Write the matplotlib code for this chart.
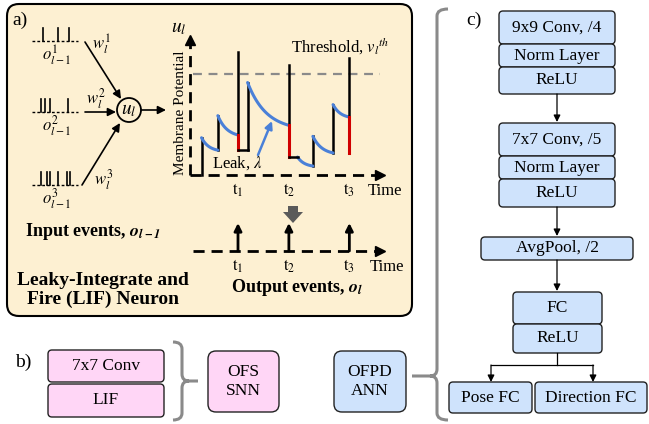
import numpy as np
import matplotlib.pyplot as plt
from matplotlib.patches import FancyBboxPatch, Circle, Polygon, PathPatch
from matplotlib.path import Path

plt.rcParams['font.family'] = 'Liberation Serif'
plt.rcParams['mathtext.fontset'] = 'stix'

# input spike trains (x positions of spikes) and their baselines
train_spikes = [[43, 58, 69], [41, 45, 50, 68], [41, 47, 50, 58, 67, 70]]
train_base = [41, 112, 185]

# membrane potential trace, in (time, potential) units
rise_times = [0.6, 1.45, 3.0, 6.4, 7.45]
rise_from = [0.0, 0.18, 0.18, 0.065, 0.16]
rise_to = [0.27, 0.43, 0.67, 0.28, 0.51]
leak_start = [(0.6, 0.27), (1.45, 0.43), (3.0, 0.67), (5.6, 0.13), (6.4, 0.28), (7.45, 0.51)]
leak_end = [(1.45, 0.18), (2.5, 0.29), (5.15, 0.36), (6.4, 0.065), (7.45, 0.16), (8.3, 0.42)]
fire_times = [2.5, 5.15, 8.3]
fire_from = [0.29, 0.36, 0.42]
fire_peak = [0.89, 0.80, 0.85]
reset_to = [0.18, 0.13, 0.16]
rest_end = [3.0, 5.6, None]
threshold = 0.73

# network layers
snn_layers = ['7x7 Conv', 'LIF']
ann_block1 = ['9x9 Conv, /4', 'Norm Layer', 'ReLU']
ann_block2 = ['7x7 Conv, /5', 'Norm Layer', 'ReLU']
ann_pool = 'AvgPool, /2'
ann_fc = ['FC', 'ReLU']
ann_heads = ['Pose FC', 'Direction FC']

beige = '#fdf0d2'
pink = '#ffd6f6'
blue = '#cfe3fc'
trace_blue = '#4a80d8'

fig = plt.figure(figsize=(6.49, 4.24), dpi=100)
ax = fig.add_axes([0, 0, 1, 1])
ax.set_xlim(0, 649)
ax.set_ylim(424, 0)
ax.axis('off')


def px(t):
    return 190 + t * 19.2


def py(v):
    return 175 - v * 138


def arrow(x0, y0, x1, y1, color='k', lw=1.2, ms=12):
    ax.annotate('', xy=(x1, y1), xytext=(x0, y0),
                arrowprops=dict(arrowstyle='-|>', color=color, lw=lw,
                                mutation_scale=ms, shrinkA=0, shrinkB=0))


def box(x, y, w, h, fc, text='', r=4, fs=12.5):
    ax.add_patch(FancyBboxPatch((x, y), w, h, boxstyle=f'round,pad=0,rounding_size={r}',
                                fc=fc, ec='#222222', lw=1.0))
    if text:
        ax.text(x + w / 2, y + h / 2, text, ha='center', va='center', fontsize=fs,
                linespacing=1.25)


def brace(x, y0, y1, ym, tip, curl, r=7):
    s = np.sign(curl)
    verts = [(x + curl, y0), (x, y0), (x, y0 + r), (x, ym - r), (x, ym), (x - s * r, ym), (tip, ym),
             (x - s * r, ym), (x, ym), (x, ym + r), (x, y1 - r), (x, y1), (x + curl, y1)]
    codes = [Path.MOVETO, Path.CURVE3, Path.CURVE3, Path.LINETO, Path.CURVE3, Path.CURVE3, Path.LINETO,
             Path.MOVETO, Path.CURVE3, Path.CURVE3, Path.LINETO, Path.CURVE3, Path.CURVE3]
    ax.add_patch(PathPatch(Path(verts, codes), fc='none', ec='#8a8a8a', lw=2.2))


# ---------------- panel a ----------------
ax.add_patch(FancyBboxPatch((7, 4), 405, 312, boxstyle='round,pad=0,rounding_size=12',
                            fc=beige, ec='black', lw=1.5))
ax.text(12, 20, 'a)', fontsize=14, va='center')

for k, (sp, base) in enumerate(zip(train_spikes, train_base)):
    ax.plot([32, 78], [base, base], color='k', lw=1.0, ls=(0, (2, 1.5)))
    for s in sp:
        ax.plot([s, s], [base, base - 13], color='k', lw=1.2)
    ax.text(57, base + 14, r'$o_{l-1}^{%d}$' % (k + 1), fontsize=12, ha='center', va='center')

arrow(85, 42, 121, 99)
arrow(85, 112, 116, 112)
arrow(82, 185, 120, 123)
arrow(141, 110, 166, 110)
ax.text(101, 44, r'$w_l^1$', fontsize=12, ha='center', va='center')
ax.text(96, 99, r'$w_l^2$', fontsize=12, ha='center', va='center')
ax.text(104, 180, r'$w_l^3$', fontsize=12, ha='center', va='center')
ax.add_patch(Circle((129, 110), 12, fc='none', ec='k', lw=1.3))
ax.text(129, 110, r'$u_l$', fontsize=14, ha='center', va='center')

ax.text(93, 232, r'Input events, $\mathbfit{o}_{\mathbfit{l-1}}$', fontsize=13, fontweight='bold',
        ha='center', va='center')
ax.text(103, 290, 'Leaky-Integrate and\nFire (LIF) Neuron', fontsize=14, fontweight='bold',
        ha='center', va='center', linespacing=1.1)

# membrane potential axes
dash = (0, (4, 2.5))
ax.plot([190, 190], [175, 42], color='k', lw=2, ls=dash)
ax.plot([190], [40], marker='^', color='k', ms=7)
ax.plot([190, 377], [175, 175], color='k', lw=2, ls=dash)
ax.plot([380], [175], marker='>', color='k', ms=7)
ax.text(179, 28, r'$u_l$', fontsize=14, ha='center', va='center')
ax.text(180, 113, 'Membrane Potential', rotation=90, fontsize=11, ha='center', va='center')
ax.plot([193, 380], [py(threshold), py(threshold)], color='#8a8a8a', lw=1.6, ls=(0, (4, 3)))
ax.text(340, 46, r'Threshold, $v_l{}^{th}$', fontsize=12, ha='center', va='center')
ax.text(368, 191, 'Time', fontsize=12, va='center')

for t, v0, v1 in zip(rise_times, rise_from, rise_to):
    ax.plot([px(t), px(t)], [py(v0), py(v1)], color='k', lw=1.8)
for (t0, v0), (t1, v1) in zip(leak_start, leak_end):
    tt = np.linspace(0, 1, 40)
    e = (np.exp(-2.2 * tt) - np.exp(-2.2)) / (1 - np.exp(-2.2))
    ax.plot(px(t0 + (t1 - t0) * tt), py(v1 + (v0 - v1) * e), color=trace_blue, lw=2.2,
            solid_capstyle='round')
for i, (t, v0, vp, vr, te) in enumerate(zip(fire_times, fire_from, fire_peak, reset_to, rest_end)):
    ax.plot([px(t), px(t)], [py(v0), py(vp)], color='k', lw=1.8)
    ax.plot([px(t), px(t)], [py(v0), py(vr)], color='#d00000', lw=2.2)
    if te is not None:
        ax.plot([px(t), px(te)], [py(vr), py(vr)], color='k', lw=1.8)
    ax.text(px(t), 190, r'$\mathrm{t}_%d$' % (i + 1), fontsize=12, ha='center', va='center')

ax.text(237, 163, r'Leak, $\lambda$', fontsize=12, ha='center', va='center')
arrow(258, 155, 272, 121, color=trace_blue, lw=1.8, ms=11)

# big gray down arrow
ax.add_patch(Polygon([(288, 206), (298, 206), (298, 212), (303, 212), (293, 223), (283, 212),
                      (288, 212)], closed=True, fc='#5a5a5a', ec='none'))

# output events
ax.plot([193, 377], [251, 251], color='k', lw=2, ls=dash)
ax.plot([380], [251], marker='>', color='k', ms=7)
for i, t in enumerate(fire_times):
    arrow(px(t), 251, px(t), 223, lw=2, ms=11)
    ax.text(px(t), 266, r'$\mathrm{t}_%d$' % (i + 1), fontsize=12, ha='center', va='center')
ax.text(370, 267, 'Time', fontsize=12, va='center')
ax.text(297, 288, r'Output events, $\mathbfit{o}_{\mathbfit{l}}$', fontsize=13, fontweight='bold',
        ha='center', va='center')

# ---------------- panel b ----------------
ax.text(15, 362, 'b)', fontsize=14, va='center')
box(48, 350, 116, 32, pink, snn_layers[0])
box(48, 384, 116, 33, pink, snn_layers[1])
brace(182, 342, 420, 381, 198, -9)
box(208, 351, 71, 61, pink, 'OFS\nSNN', r=8)
box(334, 351, 72, 61, blue, 'OFPD\nANN', r=8)
brace(437, 9, 420, 376, 412, 11)

# ---------------- panel c ----------------
ax.text(466, 20, 'c)', fontsize=14, va='center')
ys = [11, 44, 67, 94]
for i, lab in enumerate(ann_block1):
    box(499, ys[i], 116, ys[i + 1] - ys[i], blue, lab)
arrow(557, 94, 557, 122, lw=0.9, ms=10)
ys = [123, 156, 179, 207]
for i, lab in enumerate(ann_block2):
    box(499, ys[i], 116, ys[i + 1] - ys[i], blue, lab)
arrow(557, 207, 557, 236, lw=0.9, ms=10)
box(481, 237, 152, 23, blue, ann_pool)
arrow(557, 260, 557, 291, lw=0.9, ms=10)
box(513, 292, 89, 32, blue, ann_fc[0])
box(513, 324, 89, 29, blue, ann_fc[1])
ax.plot([557, 557], [353, 365], color='k', lw=0.9)
ax.plot([491, 593], [365, 365], color='k', lw=0.9)
arrow(491, 365, 491, 382, lw=0.9, ms=10)
arrow(593, 365, 593, 382, lw=0.9, ms=10)
box(449, 382, 83, 31, blue, ann_heads[0])
box(535, 382, 112, 31, blue, ann_heads[1])

plt.savefig('out.png', dpi=100)
